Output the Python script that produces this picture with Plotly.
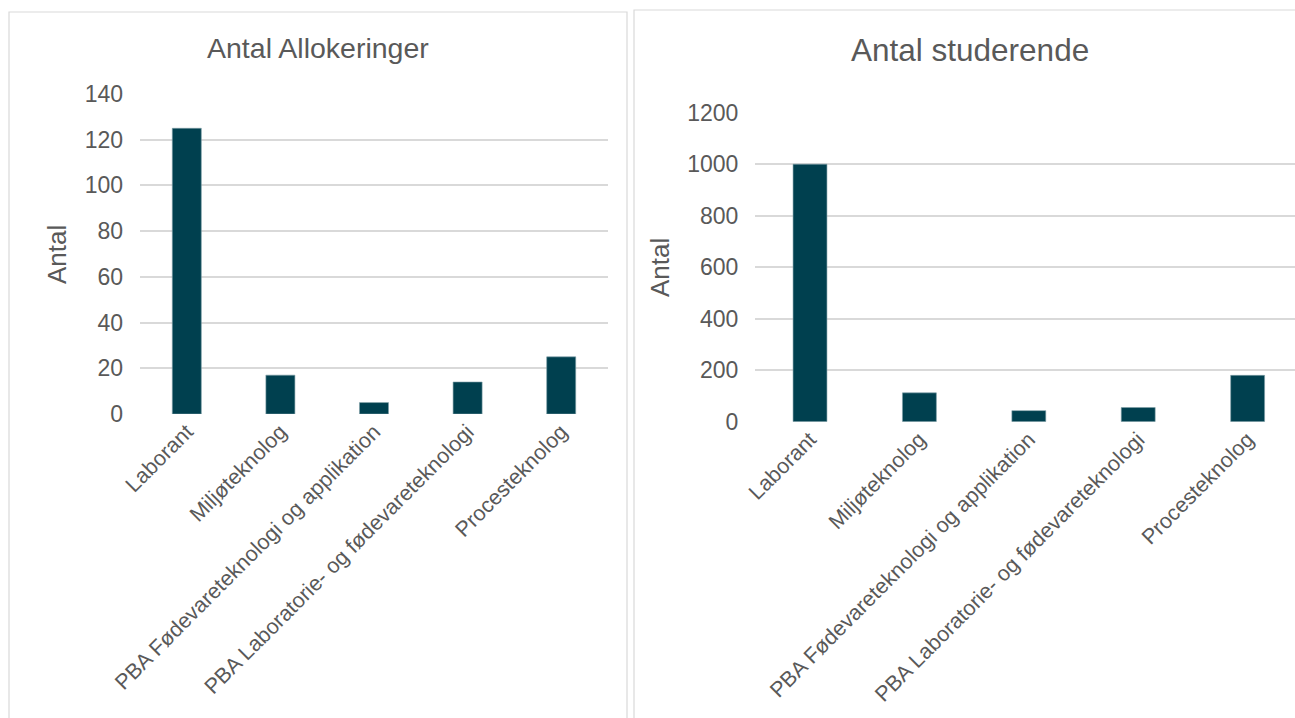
import plotly.graph_objects as go

categories = ["Laborant", "Miljøteknolog", "PBA Fødevareteknologi og applikation",
              "PBA Laboratorie- og fødevareteknologi", "Procesteknolog"]
allokeringer = [125, 17, 5, 14, 25]
studerende = [1000, 112, 43, 55, 180]
left_ticks = [0, 20, 40, 60, 80, 100, 120, 140]
right_ticks = [0, 200, 400, 600, 800, 1000, 1200]

W, H = 1295, 718
BAR = "#00404F"
GRID = "#D9D9D9"
TXT = "#595959"
FONT = "Liberation Sans, Arial, sans-serif"

def px_x(v):
    return v / W

def px_y(v):
    return 1 - v / H

fig = go.Figure()
fig.add_trace(go.Bar(x=categories, y=allokeringer, xaxis="x", yaxis="y",
                     marker=dict(color=BAR, line=dict(color="#7fa0a8", width=0.6)),
                     width=0.31, hoverinfo="x+y"))
fig.add_trace(go.Bar(x=categories, y=studerende, xaxis="x2", yaxis="y2",
                     marker=dict(color=BAR, line=dict(color="#7fa0a8", width=0.6)),
                     width=0.31, hoverinfo="x+y"))

yaxis_common = dict(showline=False, zeroline=False, ticks="", automargin=False,
                    tickfont=dict(family=FONT, size=23, color=TXT))
xaxis_common = dict(showline=False, zeroline=False, ticks="", automargin=False,
                    tickfont=dict(family=FONT, size=21.5, color=TXT))

fig.update_layout(
    template="none",
    width=W, height=H,
    margin=dict(l=0, r=0, t=0, b=0, pad=0, autoexpand=False),
    paper_bgcolor="white", plot_bgcolor="white",
    showlegend=False,
    font=dict(family=FONT, color=TXT),
    xaxis=dict(domain=[px_x(140), px_x(608)], anchor="y", range=[-0.5, 4.5],
               showgrid=False, tickangle=-45, **xaxis_common),
    yaxis=dict(domain=[px_y(414), px_y(94)], anchor="x", range=[0, 140],
               tickvals=left_ticks, showgrid=True, gridcolor=GRID, gridwidth=1.5,
               ticklabelstandoff=16, **yaxis_common),
    xaxis2=dict(domain=[px_x(755.3), 1.0], anchor="y2", range=[-0.5, 4.433],
                showgrid=False, tickangle=-45, **xaxis_common),
    yaxis2=dict(domain=[px_y(421.7), px_y(112.7)], anchor="x2", range=[0, 1200],
                tickvals=right_ticks, showgrid=True, gridcolor=GRID, gridwidth=1.5,
                ticklabelstandoff=16, **yaxis_common),
    shapes=[
        dict(type="rect", xref="paper", yref="paper", x0=px_x(9), x1=px_x(627),
             y0=px_y(740), y1=px_y(12), line=dict(color=GRID, width=1.2), layer="below"),
        dict(type="rect", xref="paper", yref="paper", x0=px_x(634), x1=px_x(1320),
             y0=px_y(740), y1=px_y(10), line=dict(color=GRID, width=1.2), layer="below"),
    ],
    annotations=[
        dict(text="Antal Allokeringer", xref="paper", yref="paper", x=px_x(318), y=px_y(48),
             xanchor="center", yanchor="middle", showarrow=False,
             font=dict(family=FONT, size=28.5, color=TXT)),
        dict(text="Antal studerende", xref="paper", yref="paper", x=px_x(970), y=px_y(50),
             xanchor="center", yanchor="middle", showarrow=False,
             font=dict(family=FONT, size=31.5, color=TXT)),
        dict(text="Antal", xref="paper", yref="paper", x=px_x(57), y=px_y(255),
             xanchor="center", yanchor="middle", showarrow=False, textangle=-90,
             font=dict(family=FONT, size=26, color=TXT)),
        dict(text="Antal", xref="paper", yref="paper", x=px_x(660), y=px_y(268),
             xanchor="center", yanchor="middle", showarrow=False, textangle=-90,
             font=dict(family=FONT, size=26, color=TXT)),
    ],
)

fig.write_html("out.html", config={"displayModeBar": False},
               post_script="document.body.style.margin='0';document.body.style.padding='0';")
